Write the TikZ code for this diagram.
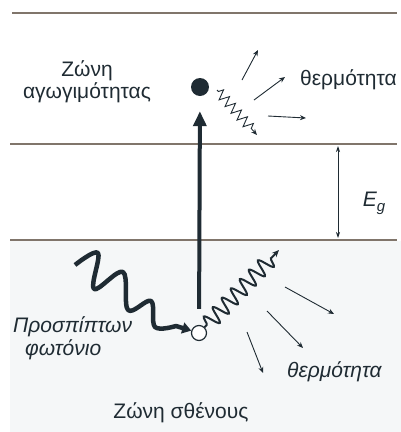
\documentclass[tikz,border=0pt]{standalone}
\usepackage{fontspec}
\setmainfont{Liberation Sans}
\usetikzlibrary{arrows.meta,decorations.pathmorphing}
\definecolor{bandline}{rgb}{0.50,0.46,0.42}
\definecolor{ink}{rgb}{0.12,0.17,0.20}
\definecolor{paper}{rgb}{0.962,0.968,0.974}
\tikzset{
  band/.style={draw=bandline, line width=1.3pt},
  lbl/.style={font=\fontsize{21}{23}\selectfont, text=ink, inner sep=0pt, align=center},
  ilbl/.style={lbl, font=\fontsize{21}{23}\selectfont\itshape},
  heat/.style={draw=ink, line width=0.9pt, -{Stealth[length=6pt,width=5pt]}},
  excite/.style={draw=ink, line width=4pt, -{Triangle[length=15pt,width=13pt]}},
  photon/.style={draw=ink, line width=4.5pt, line join=round, -{Triangle[length=9pt,width=11pt]}},
  zig/.style={draw=ink, line width=0.9pt, -{Stealth[length=6pt,width=5pt]}, decorate,
     decoration={zigzag, segment length=9pt, amplitude=5pt, pre length=2pt, post length=5pt}},
  snk/.style={draw=ink, line width=2pt, -{Stealth[length=7pt,width=6pt]}, decorate,
     decoration={snake, segment length=13pt, amplitude=8pt, pre length=3pt, post length=6pt}},
  gap/.style={draw=ink, line width=0.8pt, {Stealth[length=6pt,width=4pt]}-{Stealth[length=6pt,width=4pt]}}
}
\begin{document}
\begin{tikzpicture}[x=1pt,y=-1pt]
\useasboundingbox (0,0) rectangle (401,432);
\fill[paper] (10,241) rectangle (401,432);
% band lines
\coordinate (l1a) at (12,13);  \coordinate (l1b) at (397,13);
\coordinate (l2a) at (10,144); \coordinate (l2b) at (397,144);
\coordinate (l3a) at (10,240); \coordinate (l3b) at (397,240);
\draw[band] (l1a) -- (l1b);
\draw[band] (l2a) -- (l2b);
\draw[band] (l3a) -- (l3b);
% electron and hole
\node[circle, fill=ink, minimum size=18pt, inner sep=0pt] (electron) at (200,87) {};
\node[circle, draw=ink, fill=white, line width=1.2pt, minimum size=15pt, inner sep=0pt] (hole) at (199,333) {};
\draw[excite, shorten <=16pt, shorten >=15pt] (hole) -- (electron);
% incident photon
\draw[photon] plot[smooth, tension=0.6] coordinates {(75,265) (98,253) (94,289) (123,272) (128,310) (151,301) (155,327) (176,326)} -- (hole);
% Eg
\coordinate (ga) at (338,146);
\coordinate (gb) at (338,238);
\draw[gap] (ga) -- (gb);
\node[lbl] (eg) at (374,203) {\itshape E\raisebox{-0.45ex}{\fontsize{15}{15}\selectfont g}};
% top heat
\coordinate (zt1) at (217,90); \coordinate (zt2) at (257,135);
\draw[zig] (zt1) -- (zt2);
\coordinate (ta1) at (242,80);  \coordinate (tb1) at (258,50);
\coordinate (ta2) at (254,100); \coordinate (tb2) at (285,77);
\coordinate (ta3) at (268,116); \coordinate (tb3) at (306,118);
\draw[heat] (ta1) -- (tb1);
\draw[heat] (ta2) -- (tb2);
\draw[heat] (ta3) -- (tb3);
% bottom heat
\coordinate (zb2) at (279,250);
\draw[snk] (hole) -- (zb2);
\coordinate (ba1) at (285,287); \coordinate (bb1) at (334,314);
\coordinate (ba2) at (267,311); \coordinate (bb2) at (303,348);
\coordinate (ba3) at (247,332); \coordinate (bb3) at (263,373);
\draw[heat] (ba1) -- (bb1);
\draw[heat] (ba2) -- (bb2);
\draw[heat] (ba3) -- (bb3);
% labels
\node[lbl] (cb1) at (87,71) {Ζώνη};
\node[lbl] (cb2) at (87,93) {αγωγιμότητας};
\node[lbl, anchor=west] (th1) at (300,80) {θερμότητα};
\node[ilbl, anchor=west] (ph1) at (13,327) {Προσπίπτων};
\node[ilbl, anchor=west] (ph2) at (25,350) {φωτόνιο};
\node[ilbl, anchor=west] (th2) at (287,372) {θερμότητα};
\node[lbl] (vb) at (181,413) {Ζώνη σθένους};
\end{tikzpicture}
\end{document}
